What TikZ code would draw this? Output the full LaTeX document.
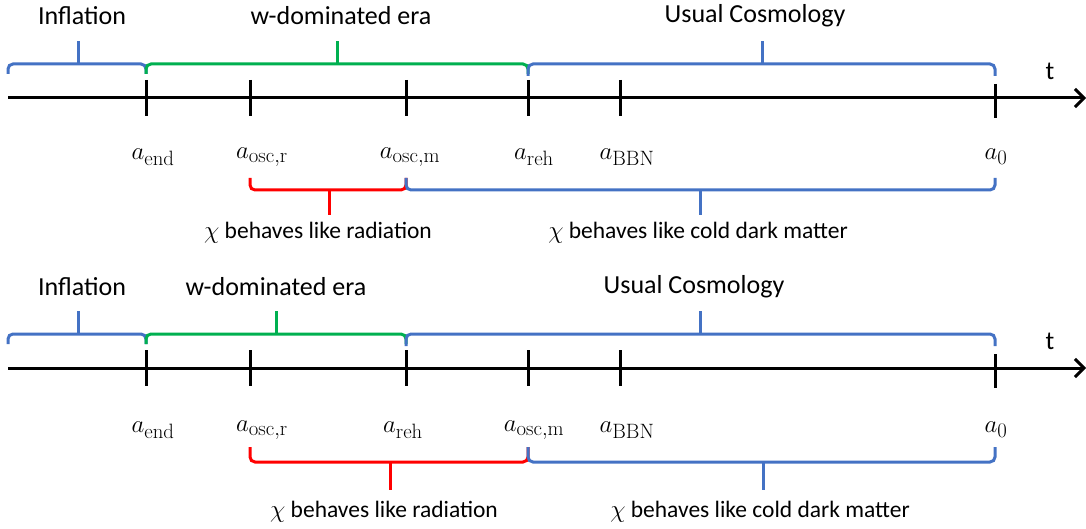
\documentclass[tikz,border=0pt]{standalone}
\usepackage[no-math]{fontspec}
\setmainfont{Carlito}
\usetikzlibrary{arrows.meta}
\definecolor{bblue}{RGB}{68,114,196}
\definecolor{bgreen}{RGB}{0,176,80}
\definecolor{bred}{RGB}{255,0,0}
\newcommand\mybrace[7]{% color, x1, xm, x2, y, tipy, endy
  \draw[#1,line width=3pt,rounded corners=5pt] (#2,#7) -- (#2,#5) -- (#4,#5) -- (#4,#7);
  \draw[#1,line width=3pt] (#3,#5) -- (#3,#6);}
\tikzset{
  axis/.style={line width=3pt,-{Straight Barb[length=9pt,width=18pt,line width=3pt]}},
  tick/.style={line width=3pt},
  toplbl/.style={font=\fontsize{26}{30}\selectfont,inner sep=0pt},
  lbl/.style={font=\fontsize{23.5}{27}\selectfont,inner sep=0pt},
  albl/.style={font=\fontsize{28}{32}\selectfont,inner sep=0pt},
}
\begin{document}
\begin{tikzpicture}[x=1pt,y=-1pt]
\useasboundingbox (0,0) rectangle (1086,529);
% ---------- top panel ----------
\begin{scope}
\coordinate (s) at (8,98);
\coordinate (e) at (1086,98);
\draw[axis] (s) -- (e);
\foreach \x in {146,250,406,528,620}{
  \draw[tick] (\x,80) -- (\x,116);}
\draw[tick] (995,84) -- (995,118);
\mybrace{bblue}{8}{78}{146}{64}{41}{74}
\mybrace{bgreen}{146}{337}{528}{64}{41}{74}
\mybrace{bblue}{528}{762}{995}{64}{41}{76}
\node[toplbl] (infl1) at (82,16) {Inflation};
\node[toplbl] (wdom1) at (341,16) {w-dominated era};
\node[toplbl] (usual1) at (755,16) {Usual Cosmology};
\node[toplbl] (t1) at (1050,71) {t};
\node[albl] (l1a) at (153,157) {$a_{\mathrm{end}}$};
\node[albl] (l1b) at (262,157) {$a_{\mathrm{osc,r}}$};
\node[albl] (l1c) at (410,157) {$a_{\mathrm{osc,m}}$};
\node[albl] (l1d) at (534,157) {$a_{\mathrm{reh}}$};
\node[albl] (l1e) at (627,157) {$a_{\mathrm{BBN}}$};
\node[albl] (l1f) at (996,157) {$a_{0}$};
\mybrace{bred}{250}{329}{406}{190}{215}{178}
\mybrace{bblue}{406}{700}{995}{190}{215}{178}
\node[lbl] (rad1) at (318,233) {$\chi$ behaves like radiation};
\node[lbl] (cdm1) at (698,233) {$\chi$ behaves like cold dark matter};
\end{scope}
% ---------- bottom panel ----------
\begin{scope}[yshift=-270pt]
\coordinate (s2) at (8,98);
\coordinate (e2) at (1086,98);
\draw[axis] (s2) -- (e2);
\foreach \x in {146,250,406,528,620}{
  \draw[tick] (\x,80) -- (\x,116);}
\draw[tick] (995,84) -- (995,118);
\mybrace{bblue}{8}{78}{146}{64}{41}{74}
\mybrace{bgreen}{146}{276}{406}{64}{41}{74}
\mybrace{bblue}{406}{700}{995}{64}{41}{76}
\node[toplbl] (infl2) at (82,17) {Inflation};
\node[toplbl] (wdom2) at (276,17) {w-dominated era};
\node[toplbl] (usual2) at (694,17) {Usual Cosmology};
\node[toplbl] (t2) at (1050,71) {t};
\node[albl] (l2a) at (153,160) {$a_{\mathrm{end}}$};
\node[albl] (l2b) at (262,160) {$a_{\mathrm{osc,r}}$};
\node[albl] (l2c) at (403,160) {$a_{\mathrm{reh}}$};
\node[albl] (l2d) at (534,160) {$a_{\mathrm{osc,m}}$};
\node[albl] (l2e) at (627,160) {$a_{\mathrm{BBN}}$};
\node[albl] (l2f) at (996,160) {$a_{0}$};
\mybrace{bred}{250}{390}{528}{192}{220}{177}
\mybrace{bblue}{528}{763}{995}{192}{220}{177}
\node[lbl] (rad2) at (384,242) {$\chi$ behaves like radiation};
\node[lbl] (cdm2) at (760,242) {$\chi$ behaves like cold dark matter};
\end{scope}
\end{tikzpicture}
\end{document}
